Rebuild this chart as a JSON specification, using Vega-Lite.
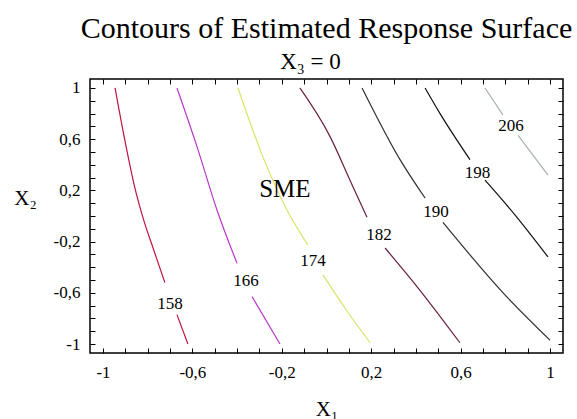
{
  "$schema": "https://vega.github.io/schema/vega-lite/v6.json",
  "autosize": {"type": "none"},
  "padding": {"left": 90, "top": 79, "right": 14, "bottom": 66},
  "width": 473,
  "height": 274,
  "background": "white",
  "title": {
    "text": "Contours of Estimated Response Surface",
    "font": "Liberation Serif",
    "fontSize": 30,
    "fontWeight": "normal",
    "color": "black",
    "anchor": "middle",
    "offset": 6
  },
  "config": {
    "view": {"stroke": "black", "strokeWidth": 1.5},
    "axis": {
      "domain": false,
      "grid": false,
      "tickColor": "black",
      "tickWidth": 1,
      "tickSize": -5,
      "labelFont": "Liberation Serif",
      "labelFontSize": 17,
      "labelColor": "black",
      "titleFont": "Liberation Serif",
      "titleFontWeight": "normal",
      "titleColor": "black",
      "titleFontSize": 21,
      "labelOverlap": false,
      "labelBound": false,
      "labelFlush": false
    }
  },
  "datasets": {
    "lines": [
      {"level": "158", "seg": "158a", "ord": 1, "x": -0.946, "y": 1.0},
      {"level": "158", "seg": "158a", "ord": 2, "x": -0.902, "y": 0.59},
      {"level": "158", "seg": "158a", "ord": 3, "x": -0.860, "y": 0.24},
      {"level": "158", "seg": "158a", "ord": 4, "x": -0.818, "y": -0.03},
      {"level": "158", "seg": "158a", "ord": 5, "x": -0.774, "y": -0.26},
      {"level": "158", "seg": "158a", "ord": 6, "x": -0.723, "y": -0.52},
      {"level": "158", "seg": "158b", "ord": 7, "x": -0.669, "y": -0.77},
      {"level": "158", "seg": "158b", "ord": 8, "x": -0.62, "y": -1.0},
      {"level": "166", "seg": "166a", "ord": 1, "x": -0.669, "y": 1.0},
      {"level": "166", "seg": "166a", "ord": 2, "x": -0.579, "y": 0.54},
      {"level": "166", "seg": "166a", "ord": 3, "x": -0.49, "y": 0.047},
      {"level": "166", "seg": "166a", "ord": 4, "x": -0.40, "y": -0.37},
      {"level": "166", "seg": "166b", "ord": 5, "x": -0.333, "y": -0.63},
      {"level": "166", "seg": "166b", "ord": 6, "x": -0.208, "y": -1.0},
      {"level": "174", "seg": "174a", "ord": 1, "x": -0.396, "y": 1.0},
      {"level": "174", "seg": "174a", "ord": 2, "x": -0.284, "y": 0.46},
      {"level": "174", "seg": "174a", "ord": 3, "x": -0.177, "y": 0.047},
      {"level": "174", "seg": "174a", "ord": 4, "x": -0.083, "y": -0.227},
      {"level": "174", "seg": "174b", "ord": 5, "x": -0.016, "y": -0.46},
      {"level": "174", "seg": "174b", "ord": 6, "x": 0.087, "y": -0.73},
      {"level": "174", "seg": "174b", "ord": 7, "x": 0.195, "y": -0.99},
      {"level": "182", "seg": "182a", "ord": 1, "x": -0.119, "y": 1.0},
      {"level": "182", "seg": "182a", "ord": 2, "x": 0.016, "y": 0.62},
      {"level": "182", "seg": "182a", "ord": 3, "x": 0.105, "y": 0.28},
      {"level": "182", "seg": "182a", "ord": 4, "x": 0.181, "y": -0.01},
      {"level": "182", "seg": "182b", "ord": 5, "x": 0.262, "y": -0.25},
      {"level": "182", "seg": "182b", "ord": 6, "x": 0.418, "y": -0.58},
      {"level": "182", "seg": "182b", "ord": 7, "x": 0.597, "y": -0.99},
      {"level": "190", "seg": "190a", "ord": 1, "x": 0.159, "y": 1.0},
      {"level": "190", "seg": "190a", "ord": 2, "x": 0.329, "y": 0.44},
      {"level": "190", "seg": "190a", "ord": 3, "x": 0.441, "y": 0.14},
      {"level": "190", "seg": "190b", "ord": 4, "x": 0.521, "y": -0.05},
      {"level": "190", "seg": "190b", "ord": 5, "x": 0.79, "y": -0.60},
      {"level": "190", "seg": "190b", "ord": 6, "x": 1.0, "y": -0.97},
      {"level": "198", "seg": "198a", "ord": 1, "x": 0.441, "y": 1.0},
      {"level": "198", "seg": "198a", "ord": 2, "x": 0.508, "y": 0.80},
      {"level": "198", "seg": "198a", "ord": 3, "x": 0.642, "y": 0.44},
      {"level": "198", "seg": "198b", "ord": 4, "x": 0.709, "y": 0.28},
      {"level": "198", "seg": "198b", "ord": 5, "x": 0.852, "y": -0.01},
      {"level": "198", "seg": "198b", "ord": 6, "x": 0.991, "y": -0.32},
      {"level": "206", "seg": "206a", "ord": 1, "x": 0.709, "y": 1.0},
      {"level": "206", "seg": "206a", "ord": 2, "x": 0.789, "y": 0.79},
      {"level": "206", "seg": "206b", "ord": 3, "x": 0.857, "y": 0.63},
      {"level": "206", "seg": "206b", "ord": 4, "x": 0.991, "y": 0.32}
    ],
    "labels": [
      {"text": "158", "x": -0.70, "y": -0.69, "size": 17},
      {"text": "166", "x": -0.36, "y": -0.51, "size": 17},
      {"text": "174", "x": -0.06, "y": -0.35, "size": 17},
      {"text": "182", "x": 0.235, "y": -0.15, "size": 17},
      {"text": "190", "x": 0.49, "y": 0.03, "size": 17},
      {"text": "198", "x": 0.675, "y": 0.335, "size": 17},
      {"text": "206", "x": 0.825, "y": 0.70, "size": 17},
      {"text": "SME", "x": -0.186, "y": 0.21, "size": 25}
    ]
  },
  "layer": [
    {
      "data": {"name": "lines"},
      "mark": {"type": "line", "strokeWidth": 1.2, "interpolate": "monotone"},
      "encoding": {
        "x": {
          "field": "x", "type": "quantitative",
          "scale": {"domain": [-1.058, 1.058], "nice": false, "zero": false},
          "axis": {
            "orient": "bottom",
            "title": "X₁",
            "titleFont": "Liberation Serif",
            "labelFont": "Liberation Serif",
            "labelFontSize": 17,
            "values": [-1, -0.9, -0.8, -0.7, -0.6, -0.5, -0.4, -0.3, -0.2, -0.1, 0, 0.1, 0.2, 0.3, 0.4, 0.5, 0.6, 0.7, 0.8, 0.9, 1],
            "labelExpr": "abs(round(datum.value * 10)) % 4 == 2 ? replace('' + datum.value, '.', ',') : ''",
            "labelPadding": 16,
            "titleY": 62,
            "titleBaseline": "alphabetic"
          }
        },
        "y": {
          "field": "y", "type": "quantitative",
          "scale": {"domain": [-1.07, 1.07], "nice": false, "zero": false},
          "axis": {
            "orient": "left",
            "title": "X₂",
            "titleFont": "Liberation Serif",
            "labelFont": "Liberation Serif",
            "labelFontSize": 17,
            "titleAngle": 0,
            "titleAlign": "center",
            "titleBaseline": "alphabetic",
            "titleX": -65,
            "titleY": 125,
            "values": [-1, -0.9, -0.8, -0.7, -0.6, -0.5, -0.4, -0.3, -0.2, -0.1, 0, 0.1, 0.2, 0.3, 0.4, 0.5, 0.6, 0.7, 0.8, 0.9, 1],
            "labelExpr": "abs(round(datum.value * 10)) % 4 == 2 ? replace('' + datum.value, '.', ',') : ''",
            "labelPadding": 15
          }
        },
        "color": {
          "field": "level", "type": "nominal", "legend": null,
          "scale": {
            "domain": ["158", "166", "174", "182", "190", "198", "206"],
            "range": ["#c0143c", "#b838c8", "#d8e46a", "#6a2040", "#303030", "#101010", "#a8b0b0"]
          }
        },
        "detail": {"field": "seg"},
        "order": {"field": "ord", "type": "quantitative"}
      }
    },
    {
      "data": {"name": "labels"},
      "mark": {"type": "text", "font": "Liberation Serif", "color": "black", "align": "center", "baseline": "middle"},
      "encoding": {
        "x": {
          "field": "x", "type": "quantitative",
          "axis": {
            "orient": "top",
            "title": "X₃ = 0",
            "titleFont": "Liberation Serif",
            "titleX": 220,
            "titleY": -11,
            "titleBaseline": "alphabetic",
            "titleFontSize": 23,
            "labels": false,
            "values": [-1, -0.9, -0.8, -0.7, -0.6, -0.5, -0.4, -0.3, -0.2, -0.1, 0, 0.1, 0.2, 0.3, 0.4, 0.5, 0.6, 0.7, 0.8, 0.9, 1]
          }
        },
        "y": {
          "field": "y", "type": "quantitative",
          "axis": {
            "orient": "right",
            "title": null,
            "labels": false,
            "values": [-1, -0.9, -0.8, -0.7, -0.6, -0.5, -0.4, -0.3, -0.2, -0.1, 0, 0.1, 0.2, 0.3, 0.4, 0.5, 0.6, 0.7, 0.8, 0.9, 1]
          }
        },
        "text": {"field": "text"},
        "size": {"field": "size", "type": "quantitative", "scale": null}
      }
    }
  ],
  "resolve": {"axis": {"x": "independent", "y": "independent"}}
}
